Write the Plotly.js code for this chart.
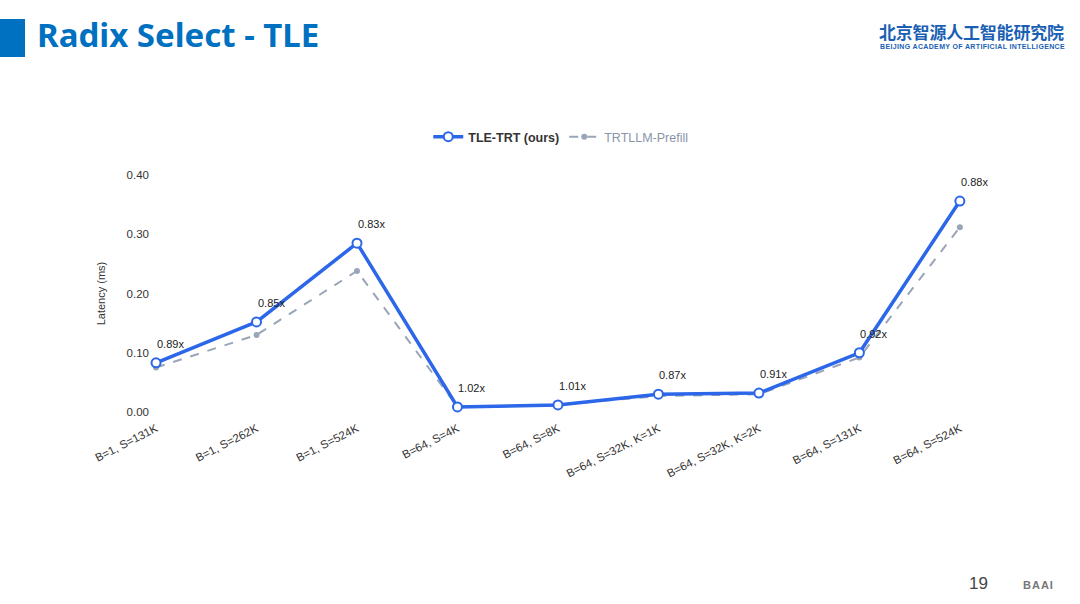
<!DOCTYPE html>
<html>
<head>
<meta charset="utf-8">
<script src="https://cdn.plot.ly/plotly-3.0.1.min.js"></script>
<style>
  html, body { margin:0; padding:0; background:#fff; }
  #wrap { position:relative; width:1080px; height:604px; overflow:hidden; background:#fff; }
  #chart { position:absolute; left:0; top:0; width:1080px; height:604px; }
  .bar { position:absolute; left:0; top:19px; width:25px; height:38px; background:#0070c0; }
  .title { position:absolute; left:37px; top:12px; font-family:"Noto Sans", sans-serif; font-weight:700; font-size:33px; color:#0070c0; white-space:nowrap; }
  .logo-cn { position:absolute; left:879px; top:20px; font-family:"Noto Sans CJK SC", sans-serif; font-weight:700; font-size:17px; line-height:24px; color:#1a5fb4; letter-spacing:-0.2px; white-space:nowrap; }
  .logo-en { position:absolute; left:880px; top:43px; font-family:"Liberation Sans", sans-serif; font-weight:700; font-size:7px; line-height:8px; color:#1a5fb4; letter-spacing:0.35px; white-space:nowrap; }
  .page { position:absolute; left:969px; top:574px; font-family:"Liberation Sans", sans-serif; font-size:17px; color:#444; }
  .baai { position:absolute; left:1023px; top:579px; font-family:"Liberation Sans", sans-serif; font-weight:700; font-size:11px; color:#777; letter-spacing:1px; }
</style>
</head>
<body>
<div id="wrap">
  <div id="chart"></div>
  <div class="bar"></div>
  <div class="title">Radix Select - TLE</div>
  <div class="logo-cn">北京智源人工智能研究院</div>
  <div class="logo-en">BEIJING ACADEMY OF ARTIFICIAL INTELLIGENCE</div>
  <div class="page">19</div>
  <div class="baai">BAAI</div>
</div>
<script>
const categories = ["B=1, S=131K","B=1, S=262K","B=1, S=524K","B=64, S=4K","B=64, S=8K","B=64, S=32K, K=1K","B=64, S=32K, K=2K","B=64, S=131K","B=64, S=524K"];
const tleLatency = [0.083, 0.152, 0.285, 0.0085, 0.012, 0.030, 0.032, 0.100, 0.356];
const trtLatency = [0.075, 0.130, 0.238, 0.0087, 0.0121, 0.027, 0.030, 0.092, 0.312];
const speedupLabels = ["0.89x","0.85x","0.83x","1.02x","1.01x","0.87x","0.91x","0.92x","0.88x"];
const yTicks = [0, 0.1, 0.2, 0.3, 0.4];

const blue = "#2b67e8";
const gray = "#9aa5b8";

const traces = [
  {
    x: categories, y: trtLatency, type: "scatter", mode: "lines+markers",
    name: "<span style=\"color:#8a94a8\">TRTLLM-Prefill</span>",
    line: {color: gray, width: 2, dash: "dash"},
    marker: {color: gray, size: 6},
    cliponaxis: false
  },
  {
    x: categories, y: tleLatency, type: "scatter", mode: "lines+markers",
    name: "<b>TLE-TRT (ours)</b>",
    line: {color: blue, width: 3.5},
    marker: {color: "#ffffff", size: 9, line: {color: blue, width: 2}},
    cliponaxis: false
  }
];

const annotations = categories.map((c, i) => ({
  x: c, y: tleLatency[i], xref: "x", yref: "y",
  text: speedupLabels[i], showarrow: false,
  xanchor: "left", yanchor: "middle",
  xshift: -1, yshift: 19,
  font: {family: "Liberation Sans, Arial, sans-serif", size: 11, color: "#222"}
}));

const layout = {
  width: 1080, height: 604,
  margin: {l: 150, r: 90, t: 175, b: 192},
  paper_bgcolor: "rgba(0,0,0,0)", plot_bgcolor: "rgba(0,0,0,0)",
  font: {family: "Liberation Sans, Arial, sans-serif", size: 11, color: "#333"},
  showlegend: true,
  legend: {
    orientation: "h", x: 0.489, xanchor: "center", y: 1.16, yanchor: "middle",
    font: {family: "Liberation Sans, Arial, sans-serif", size: 12.5, color: "#333"},
    traceorder: "reversed", itemwidth: 30
  },
  xaxis: {
    type: "category", range: [-0.06, 8.3],
    showgrid: false, zeroline: false, showline: false, ticks: "",
    tickangle: -27, tickfont: {size: 11.5, color: "#333"}, automargin: false,
    ticklabelstandoff: 7
  },
  yaxis: {
    range: [0, 0.4], tickvals: yTicks, tickformat: ".2f",
    showgrid: false, zeroline: false, showline: false, ticks: "",
    tickfont: {size: 11.5, color: "#333"}, automargin: false,
    title: {text: "Latency (ms)", font: {size: 11, color: "#333"}, standoff: 18}
  },
  annotations: annotations
};

Plotly.newPlot("chart", traces, layout, {displayModeBar: false, staticPlot: true});
</script>
</body>
</html>
